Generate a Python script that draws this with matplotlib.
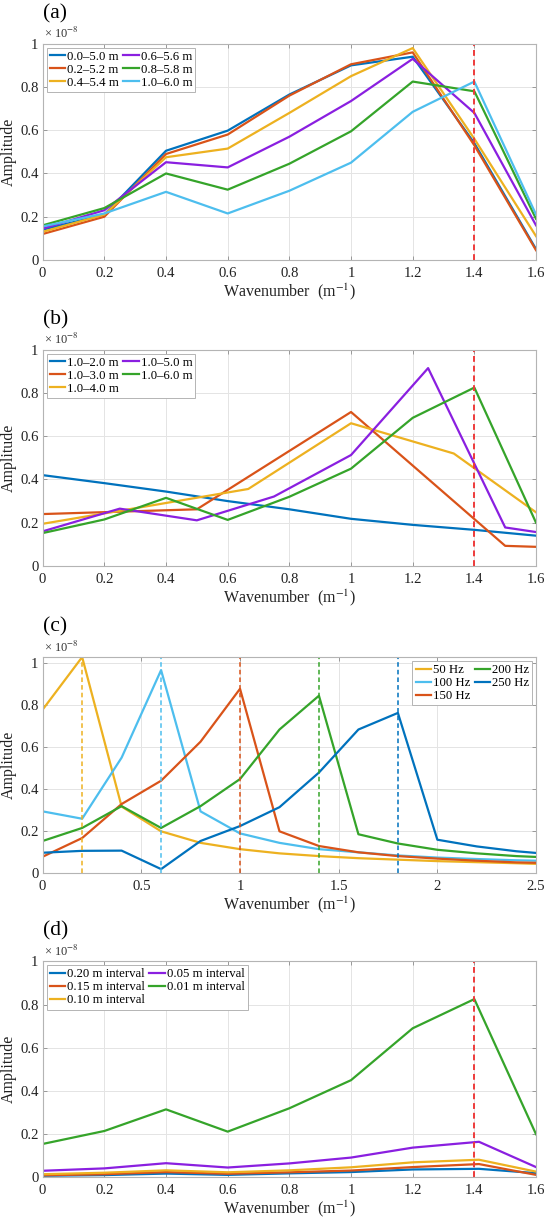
import numpy as np
import matplotlib
matplotlib.use("Agg")
import matplotlib.pyplot as plt
from matplotlib.ticker import FuncFormatter

# ---------------- data ----------------
# (a) different window positions, k = 0..1.6 step 0.2
k_a = [0, 0.2, 0.4, 0.6, 0.8, 1.0, 1.2, 1.4, 1.6]
a_labels = ["0.0–5.0 m", "0.2–5.2 m", "0.4–5.4 m", "0.6–5.6 m", "0.8–5.8 m", "1.0–6.0 m"]
a_00_50 = [0.14, 0.21, 0.505, 0.598, 0.765, 0.90, 0.94, 0.54, 0.05]
a_02_52 = [0.12, 0.20, 0.49, 0.58, 0.76, 0.905, 0.96, 0.53, 0.045]
a_04_54 = [0.13, 0.21, 0.475, 0.515, 0.68, 0.85, 0.98, 0.56, 0.11]
a_06_56 = [0.145, 0.23, 0.452, 0.428, 0.57, 0.735, 0.93, 0.68, 0.16]
a_08_58 = [0.16, 0.24, 0.40, 0.325, 0.445, 0.595, 0.825, 0.78, 0.19]
a_10_60 = [0.155, 0.215, 0.315, 0.215, 0.32, 0.45, 0.685, 0.825, 0.21]

# (b) different window lengths
b_labels = ["1.0–2.0 m", "1.0–3.0 m", "1.0–4.0 m", "1.0–5.0 m", "1.0–6.0 m"]
b_k_20 = [0, 0.2, 0.4, 0.6, 0.8, 1.0, 1.2, 1.4, 1.6]
b_v_20 = [0.42, 0.383, 0.344, 0.30, 0.262, 0.218, 0.19, 0.167, 0.14]
b_k_30 = [0, 0.5, 1.0, 1.5, 2.0]
b_v_30 = [0.24, 0.262, 0.712, 0.093, 0.07]
b_k_40 = [0, 1/3, 2/3, 1.0, 4/3, 5/3]
b_v_40 = [0.195, 0.275, 0.356, 0.66, 0.52, 0.18]
b_k_50 = [0, 0.25, 0.5, 0.75, 1.0, 1.25, 1.5, 1.75]
b_v_50 = [0.16, 0.265, 0.211, 0.321, 0.513, 0.915, 0.178, 0.125]
b_k_60 = [0, 0.2, 0.4, 0.6, 0.8, 1.0, 1.2, 1.4, 1.6]
b_v_60 = [0.152, 0.215, 0.315, 0.213, 0.32, 0.45, 0.685, 0.825, 0.2]

# (c) different source frequencies
k_c = [0, 0.2, 0.4, 0.6, 0.8, 1.0, 1.2, 1.4, 1.6, 1.8, 2.0, 2.2, 2.4, 2.5]
c_labels = ["50 Hz", "100 Hz", "150 Hz", "200 Hz", "250 Hz"]
c_50 = [0.78, 1.03, 0.318, 0.20, 0.145, 0.115, 0.095, 0.082, 0.072, 0.065, 0.058, 0.053, 0.048, 0.045]
c_100 = [0.295, 0.26, 0.551, 0.968, 0.295, 0.19, 0.145, 0.115, 0.10, 0.085, 0.075, 0.068, 0.062, 0.06]
c_150 = [0.079, 0.168, 0.33, 0.441, 0.627, 0.879, 0.20, 0.13, 0.10, 0.082, 0.07, 0.06, 0.052, 0.05]
c_200 = [0.154, 0.216, 0.32, 0.216, 0.32, 0.449, 0.685, 0.846, 0.186, 0.142, 0.112, 0.095, 0.082, 0.078]
c_250 = [0.098, 0.107, 0.108, 0.02, 0.154, 0.225, 0.315, 0.48, 0.685, 0.764, 0.16, 0.128, 0.105, 0.097]
c_peaks = [0.2, 0.6, 1.0, 1.4, 1.8]

# (d) different sampling intervals
k_d = [0, 0.2, 0.4, 0.6, 0.8, 1.0, 1.2, 1.4, 1.6]
k_d_coarse = [0, 0.2, 0.4, 0.6, 0.8, 1.0, 1.2, 1.415, 1.6]
d_labels = ["0.20 m interval", "0.15 m interval", "0.10 m interval", "0.05 m interval", "0.01 m interval"]
d_020 = [0.008, 0.011, 0.018, 0.012, 0.019, 0.025, 0.037, 0.040, 0.020]
d_015 = [0.010, 0.015, 0.025, 0.017, 0.024, 0.032, 0.048, 0.062, 0.012]
d_010 = [0.015, 0.022, 0.033, 0.024, 0.033, 0.047, 0.070, 0.082, 0.027]
d_005 = [0.031, 0.042, 0.066, 0.046, 0.065, 0.092, 0.138, 0.165, 0.048]
d_001 = [0.155, 0.215, 0.315, 0.212, 0.32, 0.45, 0.69, 0.825, 0.20]

ref_k = 1.4

# ---------------- style ----------------
BLUE = "#0072BD"
RED = "#D95319"
YEL = "#EDB120"
PUR = "#8A1FE0"
GRN = "#35A42A"
CYA = "#4DBEEE"
DRED = "#EE3B3B"

plt.rcParams["font.family"] = ["Liberation Serif", "DejaVu Serif"]
plt.rcParams["mathtext.fontset"] = "stix"
plt.rcParams["axes.linewidth"] = 0.8

fig = plt.figure(figsize=(5.5, 12.25), dpi=100)
L, W, H = 0.0776, 0.897, 0.1765
bottoms = [0.7878, 0.5380, 0.2871, 0.0388]
axes = [fig.add_axes([L, b, W, H]) for b in bottoms]

fmt = FuncFormatter(lambda v, p: "%g" % round(v, 6))


def style(ax, xmax, xticks, ymax, tag):
    ax.set_xlim(0, xmax)
    ax.set_ylim(0, ymax)
    ax.set_xticks(xticks)
    ax.set_yticks([0, 0.2, 0.4, 0.6, 0.8, 1.0])
    ax.xaxis.set_major_formatter(fmt)
    ax.yaxis.set_major_formatter(fmt)
    ax.grid(True, color="#e4e4e4", linewidth=0.7)
    ax.set_axisbelow(True)
    for s in ax.spines.values():
        s.set_color("#b4b4b4")
    ax.tick_params(direction="in", length=3, width=0.6, color="#8c8c8c",
                   top=True, right=True, labelsize=10.6, labelcolor="#222222")
    ax.tick_params(axis="x", pad=5)
    ax.tick_params(axis="y", pad=3)
    ax.set_xlabel("Wavenumber  (m$^{-1}$)", fontsize=11.5, labelpad=1, color="#222222")
    ax.set_ylabel("Amplitude", fontsize=11.5, color="#222222")
    ax.yaxis.set_label_coords(-0.053, 0.5)
    ax.text(0.0, 1.14, tag, transform=ax.transAxes, fontsize=15.5, ha="left", va="center")
    ax.text(0.002, 1.046, r"× 10$^{-8}$", transform=ax.transAxes, fontsize=9,
            ha="left", va="center", color="#333333")


def leg(ax, loc):
    lg = ax.legend(loc=loc, ncol=2, fontsize=9.2, handlelength=1.2, handletextpad=0.15,
                   columnspacing=0.35, labelspacing=0.08, borderpad=0.25,
                   borderaxespad=0.3, fancybox=False, framealpha=1)
    lg.get_frame().set_edgecolor("#b4b4b4")
    lg.get_frame().set_linewidth(0.7)


lw = 1.6

# (a)
ax = axes[0]
for vals, c, lab in zip([a_00_50, a_02_52, a_04_54, a_06_56, a_08_58, a_10_60],
                        [BLUE, RED, YEL, PUR, GRN, CYA], a_labels):
    ax.plot(k_a, vals, color=c, lw=lw, label=lab)
ax.axvline(ref_k, color=DRED, ls=(0, (3, 2)), lw=1.4)
style(ax, 1.6, k_a, 1.0, "(a)")
leg(ax, "upper left")

# (b)
ax = axes[1]
for kk, vals, c, lab in zip([b_k_20, b_k_30, b_k_40, b_k_50, b_k_60],
                            [b_v_20, b_v_30, b_v_40, b_v_50, b_v_60],
                            [BLUE, RED, YEL, PUR, GRN], b_labels):
    ax.plot(kk, vals, color=c, lw=lw, label=lab)
ax.axvline(ref_k, color=DRED, ls=(0, (3, 2)), lw=1.4)
style(ax, 1.6, k_a, 1.0, "(b)")
leg(ax, "upper left")

# (c)
ax = axes[2]
c_cols = [YEL, CYA, RED, GRN, BLUE]
for vals, c, lab in zip([c_50, c_100, c_150, c_200, c_250], c_cols, c_labels):
    ax.plot(k_c, vals, color=c, lw=lw, label=lab)
for pk, c in zip(c_peaks, c_cols):
    ax.axvline(pk, color=c, ls=(0, (3, 2)), lw=1.1)
style(ax, 2.5, [0, 0.5, 1.0, 1.5, 2.0, 2.5], 1.03, "(c)")
leg(ax, "upper right")

# (d)
ax = axes[3]
for kk, vals, c, lab in zip([k_d_coarse, k_d_coarse, k_d_coarse, k_d_coarse, k_d],
                            [d_020, d_015, d_010, d_005, d_001],
                            [BLUE, RED, YEL, PUR, GRN], d_labels):
    ax.plot(kk, vals, color=c, lw=lw, label=lab)
ax.axvline(ref_k, color=DRED, ls=(0, (3, 2)), lw=1.4)
style(ax, 1.6, k_d, 1.0, "(d)")
leg(ax, "upper left")

fig.savefig("out.png", dpi=100)
